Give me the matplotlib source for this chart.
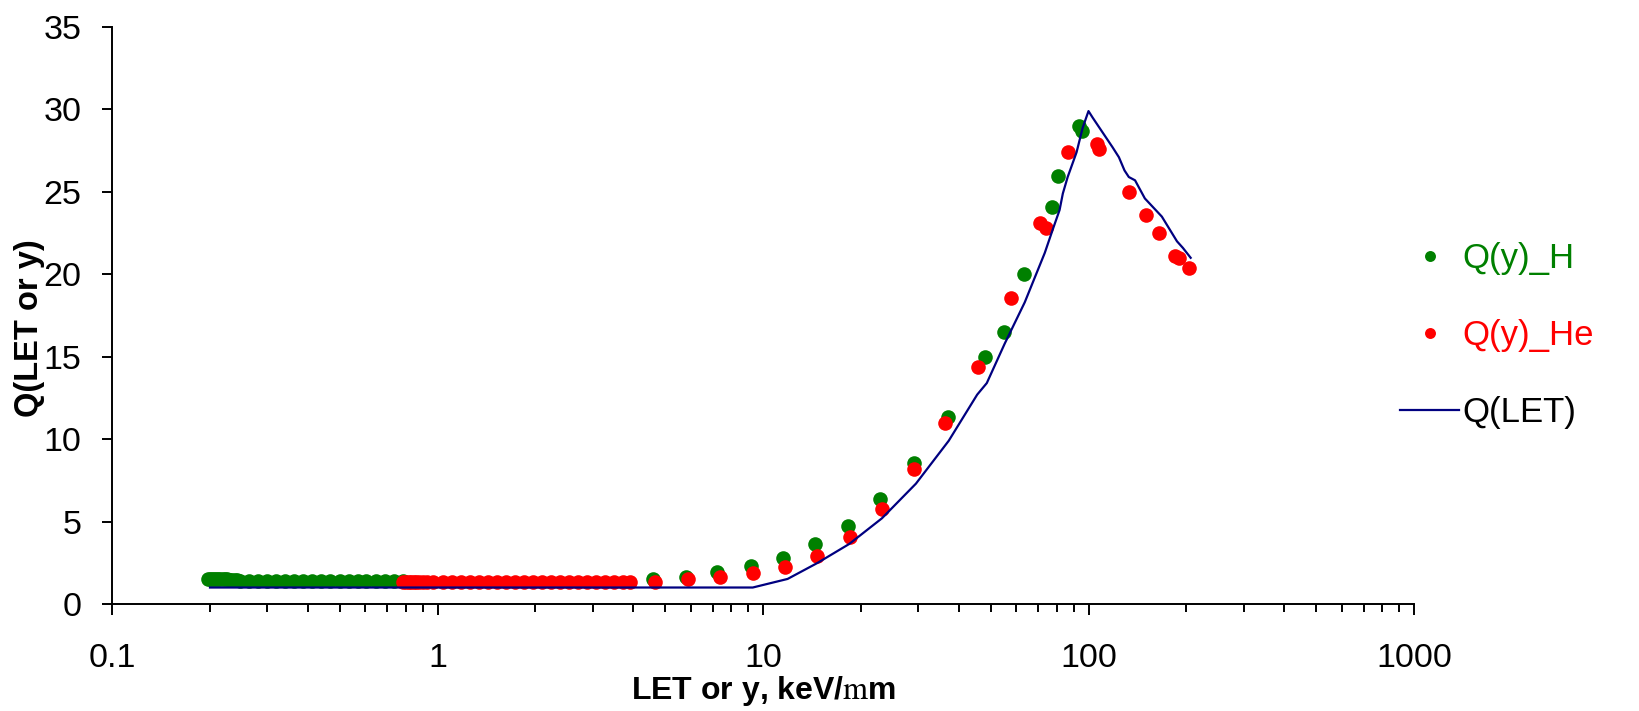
import numpy as np
import matplotlib
matplotlib.use("Agg")
import matplotlib.pyplot as plt
from matplotlib.ticker import FixedLocator, FixedFormatter, LogLocator, NullFormatter

plt.rcParams['font.family'] = ['Liberation Sans', 'DejaVu Sans']
plt.rcParams['mathtext.fontset'] = 'stix'

# Q(y) for H (green)
h_y = [0.197, 0.200, 0.203, 0.206, 0.209, 0.212, 0.215, 0.219, 0.222, 0.226,
       0.230, 0.234, 0.238, 0.242, 0.248, 0.264, 0.281, 0.300, 0.320, 0.341,
       0.363, 0.387, 0.413, 0.440, 0.469, 0.500, 0.533, 0.568, 0.605, 0.645,
       0.688, 0.733, 0.781,
       4.59, 5.8, 7.2, 9.2, 11.5, 14.4, 18.2, 22.9, 29.0, 37.0, 48.0, 55.0,
       63.2, 77.1, 80.4, 93.5, 95.5]
h_q = [1.50, 1.50, 1.50, 1.50, 1.50, 1.50, 1.50, 1.50, 1.50, 1.50,
       1.48, 1.48, 1.46, 1.45, 1.42, 1.42, 1.42, 1.42, 1.42, 1.42,
       1.42, 1.42, 1.42, 1.42, 1.42, 1.42, 1.42, 1.42, 1.42, 1.42,
       1.42, 1.42, 1.42,
       1.50, 1.64, 1.94, 2.30, 2.79, 3.64, 4.73, 6.37, 8.55, 11.34, 14.98, 16.5,
       20.0, 24.1, 25.96, 29.0, 28.7]

# Q(y) for He (red)
he_y = [0.785, 0.80, 0.815, 0.83, 0.845, 0.86, 0.88, 0.90, 0.93, 0.97,
        1.04, 1.11, 1.18, 1.26, 1.34, 1.43, 1.52, 1.62, 1.73, 1.84,
        1.96, 2.09, 2.23, 2.38, 2.53, 2.70, 2.88, 3.07, 3.27, 3.48,
        3.71, 3.90,
        4.66, 5.9, 7.4, 9.3, 11.7, 14.7, 18.5, 23.2, 29.0, 36.3, 45.8, 57.7,
        70.8, 73.9, 86.5, 106, 108, 133, 150, 164.5, 185, 190, 203]
he_q = [1.35] * 32 + [
        1.35, 1.52, 1.64, 1.88, 2.25, 2.91, 4.06, 5.76, 8.19, 10.98, 14.37, 18.56,
        23.1, 22.8, 27.4, 27.9, 27.6, 25.0, 23.6, 22.5, 21.1, 21.0, 20.4]

# Q(LET) curve
let_x = [0.2, 9.3, 11.9, 14.7, 18.4, 23.2, 29.5, 37.2, 45.5, 48.7, 55.3, 63.7,
         73.4, 77.6, 81.5, 83.4, 86.3, 91.9, 96, 100, 103, 118.6, 124, 129,
         133, 139, 149, 168, 187, 195, 206]
let_q = [1, 1, 1.52, 2.49, 3.64, 5.2, 7.3, 9.9, 12.7, 13.4, 15.8, 18.3,
         21.3, 22.7, 23.9, 24.9, 25.9, 27.4, 28.9, 29.9, 29.5, 27.7, 27.1, 26.3,
         25.9, 25.7, 24.6, 23.5, 22.0, 21.6, 21.0]

x_ticks = [0.1, 1, 10, 100, 1000]
x_tick_labels = ['0.1', '1', '10', '100', '1000']
y_ticks = [0, 5, 10, 15, 20, 25, 30, 35]

fig = plt.figure(figsize=(16.39, 7.11), dpi=100, facecolor='white')
ax = fig.add_axes([112 / 1639, 1 - 604 / 711, 1302 / 1639, 577 / 711])

ax.plot(h_y, h_q, 'o', color='#008000', markersize=10.5, markeredgewidth=0,
        label='Q(y)_H')
ax.plot(he_y, he_q, 'o', color='#FF0000', markersize=10.5, markeredgewidth=0,
        label='Q(y)_He')
ax.plot(let_x, let_q, '-', color='#000080', linewidth=1.6, label='Q(LET)')

ax.set_xscale('log')
ax.set_xlim(0.1, 1000)
ax.set_ylim(0, 35)
ax.xaxis.set_major_locator(FixedLocator(x_ticks))
ax.xaxis.set_major_formatter(FixedFormatter(x_tick_labels))
ax.xaxis.set_minor_locator(LogLocator(base=10, subs=np.arange(2, 10)))
ax.xaxis.set_minor_formatter(NullFormatter())
ax.set_yticks(y_ticks)

for s in ['top', 'right']:
    ax.spines[s].set_visible(False)
for s in ['left', 'bottom']:
    ax.spines[s].set_linewidth(1.4)

ax.tick_params(axis='x', which='major', direction='out', length=8, width=1.4,
               labelsize=24.5, pad=20)
ax.tick_params(axis='x', which='minor', direction='out', length=6, width=1.4)
ax.tick_params(axis='y', which='major', direction='out', length=7, width=1.4,
               labelsize=24.5, pad=15)

ax.set_xlabel('LET or y, keV/$\\mathrm{m}$m', fontsize=23, fontweight='bold')
ax.xaxis.set_label_coords(0.5, -0.121)
ax.set_ylabel('Q(LET or y)', fontsize=23.5, fontweight='bold')
ax.yaxis.set_label_coords(-0.0515, 0.478)

leg = fig.legend(loc='upper left', bbox_to_anchor=(1400 / 1639, 1 - 242 / 711),
                 frameon=False, fontsize=25, markerscale=0.75,
                 handlelength=1.7, handletextpad=0.1, labelspacing=1.27,
                 borderpad=0, borderaxespad=0)
for txt, c in zip(leg.get_texts(), ['#008000', '#FF0000', 'black']):
    txt.set_color(c)

fig.savefig('out.png', dpi=100, facecolor='white')
